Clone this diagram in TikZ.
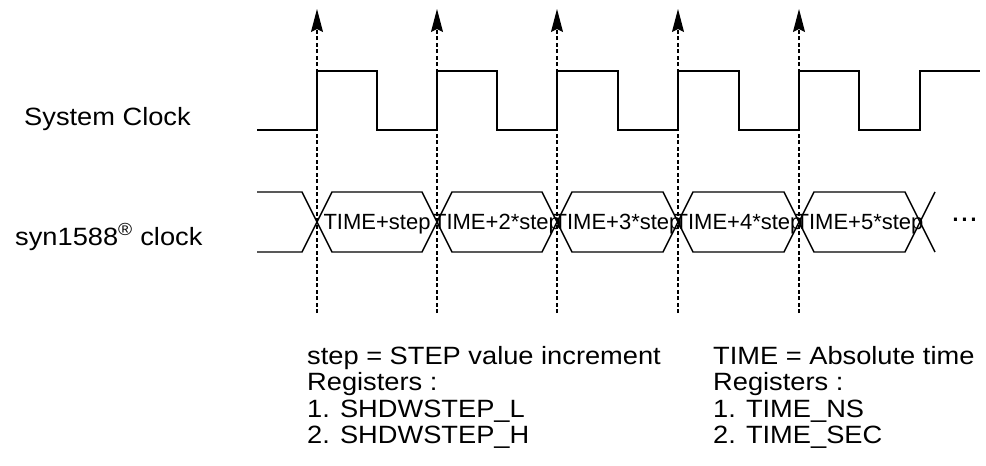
\documentclass[tikz,border=0pt]{standalone}
\usepackage{fontspec}
\setmainfont{Liberation Sans}
\newfontfamily\widefont[FakeStretch=1.09]{Liberation Sans}
\usetikzlibrary{arrows.meta}

\tikzset{
    wave/.style={line width=1.4pt, line join=miter},
    tick/.style={line width=1.2pt, dash pattern=on 4pt off 2.5pt,
        -{Stealth[length=23pt,width=12pt,inset=3pt]}},
    lbl/.style={inner sep=0pt, font=\widefont\fontsize{25}{30}\selectfont},
    val/.style={inner sep=0pt, anchor=base, font=\fontsize{22}{26}\selectfont},
    note/.style={inner sep=0pt, anchor=north west, align=left,
        font=\widefont\fontsize{25}{26.5}\selectfont}
}

\begin{document}
\begin{tikzpicture}[x=1pt,y=-1pt]
    \useasboundingbox (0,0) rectangle (986,466);

    % labels
    \node[lbl, anchor=base west] (sysclk) at (24,125) {System Clock};
    \node[lbl, anchor=base west] (synclk) at (15,245) {syn1588\textsuperscript{\textregistered} clock};

    % system clock
    \draw[wave] (257,130) -- (317,130) -- (317,71) -- (377,71) -- (377,130)
        -- (437,130) -- (437,71) -- (497,71) -- (497,130)
        -- (557,130) -- (557,71) -- (618,71) -- (618,130)
        -- (678,130) -- (678,71) -- (739,71) -- (739,130)
        -- (799,130) -- (799,71) -- (859,71) -- (859,130)
        -- (920,130) -- (920,71) -- (980,71);

    % syn1588 clock
    \draw[wave] (257,192) -- (302,192) -- (332,252) -- (422,252) -- (452,192)
        -- (542,192) -- (572,252) -- (663,252) -- (693,192)
        -- (784,192) -- (814,252) -- (905,252) -- (935,192);
    \draw[wave] (257,252) -- (302,252) -- (332,192) -- (422,192) -- (452,252)
        -- (542,252) -- (572,192) -- (663,192) -- (693,252)
        -- (784,252) -- (814,192) -- (905,192) -- (935,252);

    \node[val] (v1) at (377,229) {TIME+step};
    \node[val] (v2) at (497,229) {TIME+2*step};
    \node[val] (v3) at (617.5,229) {TIME+3*step};
    \node[val] (v4) at (738.5,229) {TIME+4*step};
    \node[val] (v5) at (859.5,229) {TIME+5*step};
    \node[inner sep=0pt, anchor=base west, font=\fontsize{32}{36}\selectfont] (more) at (951,221) {...};

    % clock edges
    \coordinate (b1) at (317,313); \coordinate (t1) at (317,9);
    \coordinate (b2) at (437,313); \coordinate (t2) at (437,9);
    \coordinate (b3) at (557,313); \coordinate (t3) at (557,9);
    \coordinate (b4) at (678,313); \coordinate (t4) at (678,9);
    \coordinate (b5) at (799,313); \coordinate (t5) at (799,9);
    \draw[tick] (b1) -- (t1);
    \draw[tick] (b2) -- (t2);
    \draw[tick] (b3) -- (t3);
    \draw[tick] (b4) -- (t4);
    \draw[tick] (b5) -- (t5);

    % notes
    \node[note] (stepnote) at (307,346) {step = STEP value increment\\Registers :\\1. SHDWSTEP\_L\\2. SHDWSTEP\_H};
    \node[note] (timenote) at (713,346) {TIME = Absolute time\\Registers :\\1. TIME\_NS\\2. TIME\_SEC};
\end{tikzpicture}
\end{document}
